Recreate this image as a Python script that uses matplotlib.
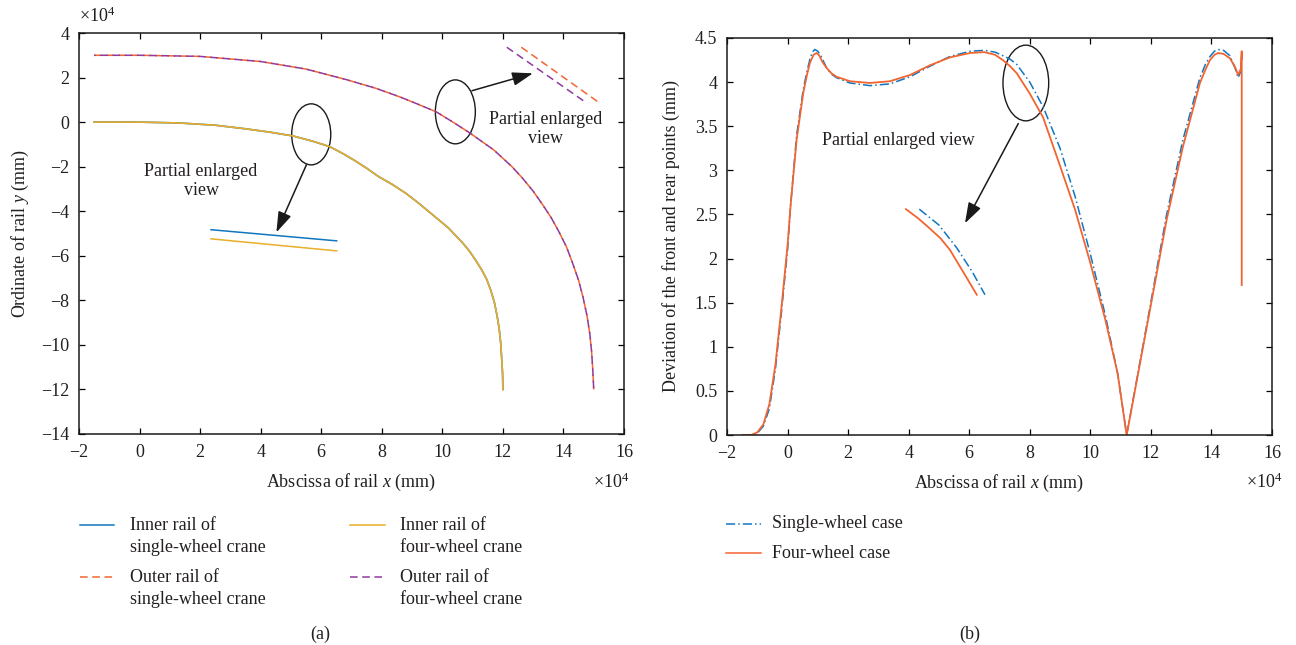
import matplotlib
matplotlib.use("Agg")
import matplotlib.pyplot as plt
from matplotlib.patches import Ellipse
from matplotlib.lines import Line2D

plt.rcParams['font.family'] = ['Liberation Serif', 'DejaVu Serif']
plt.rcParams['mathtext.fontset'] = 'custom'
plt.rcParams['mathtext.rm'] = 'Liberation Serif'
plt.rcParams['mathtext.it'] = 'Liberation Serif:italic'
plt.rcParams['axes.unicode_minus'] = True

# colours (MATLAB-like)
BLUE = '#0f76c0'
ORANGE = '#f26430'
YELLOW = '#e9ae2a'
PURPLE = '#8e3a9e'
TXT = '#231f20'

# ---- panel (a): rail coordinates, x and y in units of 1e4 mm ----
inner_x = [-1.5, 0.0, 1.33, 2.5, 3.5, 4.3, 5.06, 5.7, 6.28, 6.7, 7.1, 7.5, 7.9, 8.35, 8.8, 9.2, 9.6, 10.2, 10.67, 10.9, 11.1, 11.3, 11.47, 11.6, 11.72, 11.81, 11.88, 11.93, 11.96, 11.99, 12.0]
inner_y = [0.0, 0.0, -0.04, -0.14, -0.3, -0.45, -0.62, -0.85, -1.1, -1.4, -1.72, -2.07, -2.45, -2.8, -3.2, -3.62, -4.07, -4.75, -5.42, -5.8, -6.2, -6.63, -7.07, -7.55, -8.1, -8.7, -9.3, -9.95, -10.6, -11.3, -12.0]
outer_x = [-1.5, 0.0, 2.0, 4.0, 5.5, 6.85, 7.8, 8.6, 9.2, 9.8, 10.35, 10.9, 11.7, 12.3, 12.65, 13.0, 13.3, 13.6, 13.85, 14.1, 14.3, 14.5, 14.65, 14.78, 14.87, 14.93, 14.97, 15.0]
outer_y = [3.0, 3.0, 2.95, 2.72, 2.38, 1.9, 1.52, 1.13, 0.8, 0.46, 0.0, -0.48, -1.25, -2.0, -2.52, -3.1, -3.68, -4.3, -4.92, -5.6, -6.32, -7.1, -7.88, -8.7, -9.5, -10.3, -11.15, -12.0]
# enlarged-view segments
zoom_inner_x = [2.36, 6.51]
zoom_inner_single_y = [-4.83, -5.33]
zoom_inner_four_y = [-5.24, -5.78]
zoom_outer_single_x = [12.61, 15.13]
zoom_outer_four_x = [12.13, 14.70]
zoom_outer_y = [3.36, 0.92]

# ---- panel (b): deviation of front and rear points (mm) ----
dev_four_x = [-1.5, -1.2, -1.0, -0.8, -0.6, -0.4, -0.2, 0.0, 0.1, 0.3, 0.52, 0.64, 0.74, 0.86, 0.96, 1.05, 1.15, 1.29, 1.45, 1.62, 2.06, 2.72, 3.38, 4.04, 4.7, 5.36, 6.03, 6.5, 6.85, 7.11, 7.35, 7.57, 8.0, 8.44, 9.0, 9.5, 10.0, 10.5, 10.9, 11.2, 11.97, 12.52, 13.06, 13.62, 13.8, 13.95, 14.1, 14.22, 14.4, 14.61, 14.78, 14.88, 14.97, 15.0, 15.0]
dev_four_y = [0.0, 0.0, 0.03, 0.12, 0.35, 0.8, 1.45, 2.15, 2.6, 3.35, 3.88, 4.08, 4.22, 4.31, 4.33, 4.3, 4.23, 4.16, 4.1, 4.06, 4.01, 3.99, 4.01, 4.08, 4.19, 4.28, 4.33, 4.34, 4.31, 4.25, 4.18, 4.10, 3.87, 3.6, 3.05, 2.55, 1.95, 1.3, 0.7, 0.0, 1.42, 2.44, 3.27, 3.99, 4.14, 4.25, 4.31, 4.33, 4.32, 4.27, 4.17, 4.08, 4.15, 4.35, 1.70]
dev_single_x = [-1.5, -1.2, -1.0, -0.8, -0.6, -0.4, -0.2, 0.0, 0.1, 0.3, 0.52, 0.64, 0.74, 0.82, 0.9, 1.0, 1.1, 1.29, 1.45, 1.62, 2.06, 2.72, 3.38, 4.04, 4.7, 5.36, 6.03, 6.5, 6.85, 7.11, 7.35, 7.57, 8.0, 8.44, 9.0, 9.5, 10.0, 10.5, 10.9, 11.2, 11.97, 12.52, 13.06, 13.62, 13.8, 13.95, 14.1, 14.22, 14.4, 14.61, 14.78, 14.88, 14.97, 15.0]
dev_single_y = [0.0, 0.0, 0.02, 0.1, 0.3, 0.75, 1.4, 2.1, 2.6, 3.4, 3.92, 4.12, 4.26, 4.34, 4.37, 4.35, 4.3, 4.16, 4.09, 4.05, 3.99, 3.96, 3.98, 4.06, 4.18, 4.29, 4.35, 4.36, 4.34, 4.30, 4.26, 4.2, 4.0, 3.72, 3.25, 2.7, 2.05, 1.35, 0.7, 0.0, 1.45, 2.5, 3.35, 4.05, 4.2, 4.29, 4.35, 4.37, 4.36, 4.3, 4.16, 4.05, 4.12, 4.3]
zoom_four_x = [3.91, 4.3, 4.7, 5.05, 5.36, 5.85, 6.25]
zoom_four_y = [2.56, 2.46, 2.34, 2.23, 2.10, 1.82, 1.59]
zoom_single_x = [4.35, 5.0, 5.59, 6.1, 6.52]
zoom_single_y = [2.56, 2.38, 2.12, 1.85, 1.59]

W, H = 1296, 645
def fx(px):
    return px / W
def fy(py):
    return 1 - py / H

fig = plt.figure(figsize=(12.96, 6.45), dpi=100)
ax1 = fig.add_axes([fx(79), fy(434), 545 / W, 401 / H])
ax2 = fig.add_axes([fx(727), fy(435), 545 / W, 397 / H])

FS = 13
arrow = dict(arrowstyle='-|>,head_length=0.9,head_width=0.3', color='#1a1a1a', lw=1.1, mutation_scale=14, shrinkA=0, shrinkB=0)

# panel (a)
ax1.plot(inner_x, inner_y, color=BLUE, lw=1.2)
ax1.plot(inner_x, inner_y, color=YELLOW, lw=1.2)
ax1.plot(outer_x, outer_y, color=ORANGE, lw=1.1, linestyle=(0, (5, 3)))
ax1.plot(outer_x, outer_y, color=PURPLE, lw=1.1, linestyle=(4, (5, 3)))
ax1.plot(zoom_inner_x, zoom_inner_single_y, color=BLUE, lw=1.1)
ax1.plot(zoom_inner_x, zoom_inner_four_y, color=YELLOW, lw=1.1)
ax1.plot(zoom_outer_single_x, zoom_outer_y, color=ORANGE, lw=1.1, linestyle=(0, (5, 3)))
ax1.plot(zoom_outer_four_x, zoom_outer_y, color=PURPLE, lw=1.1, linestyle=(0, (5, 3)))
ax1.add_patch(Ellipse((5.67, -0.55), 1.29, 2.74, fill=False, ec='#1a1a1a', lw=1.0))
ax1.add_patch(Ellipse((10.43, 0.46), 1.32, 2.87, fill=False, ec='#1a1a1a', lw=1.0))
ax1.annotate('', xy=(4.52, -4.95), xytext=(5.51, -1.92), arrowprops=arrow)
ax1.annotate('', xy=(12.99, 2.19), xytext=(10.98, 1.41), arrowprops=arrow)
ax1.text(2.03, -2.64, 'Partial enlarged\nview', ha='center', va='center', fontsize=FS, color=TXT, linespacing=1.15)
ax1.text(13.41, -0.33, 'Partial enlarged\nview', ha='center', va='center', fontsize=FS, color=TXT, linespacing=1.15)
ax1.set_xlim(-2, 16)
ax1.set_ylim(-14, 4)
ax1.set_xticks(range(-2, 17, 2))
ax1.set_yticks(range(-14, 5, 2))
ax1.set_xlabel('Abscissa of rail $x$ (mm)', fontsize=FS, color=TXT, labelpad=8)
ax1.set_ylabel('Ordinate of rail $y$ (mm)', fontsize=FS, color=TXT, labelpad=7)

# panel (b)
ax2.plot(dev_single_x, dev_single_y, color=BLUE, lw=1.1, linestyle=(0, (6, 2, 1, 2)))
ax2.plot(dev_four_x, dev_four_y, color=ORANGE, lw=1.3)
ax2.plot(zoom_single_x, zoom_single_y, color=BLUE, lw=1.1, linestyle=(0, (6, 2, 1, 2)))
ax2.plot(zoom_four_x, zoom_four_y, color=ORANGE, lw=1.3)
ax2.add_patch(Ellipse((7.87, 3.99), 1.51, 0.858, fill=False, ec='#1a1a1a', lw=1.0))
ax2.annotate('', xy=(5.86, 2.40), xytext=(7.62, 3.53), arrowprops=arrow)
ax2.text(3.66, 3.34, 'Partial enlarged view', ha='center', va='center', fontsize=FS, color=TXT)
ax2.set_xlim(-2, 16)
ax2.set_ylim(0, 4.5)
ax2.set_xticks(range(-2, 17, 2))
ax2.set_yticks([0, 0.5, 1, 1.5, 2, 2.5, 3, 3.5, 4, 4.5])
ax2.set_yticklabels(['0', '0.5', '1', '1.5', '2', '2.5', '3', '3.5', '4', '4.5'])
ax2.set_xlabel('Abscissa of rail $x$ (mm)', fontsize=FS, color=TXT, labelpad=8)
ax2.set_ylabel('Deviation of the front and rear points (mm)', fontsize=FS, color=TXT, labelpad=11)

for ax in (ax1, ax2):
    ax.tick_params(direction='in', top=True, right=True, length=4.5, width=0.9,
                   labelsize=FS, labelcolor=TXT, pad=7)
    for s in ax.spines.values():
        s.set_linewidth(1.1)
        s.set_color('#1a1a1a')

# multiplier labels
fig.text(fx(79), fy(16), r'$\times10^{4}$', fontsize=FS, color=TXT, ha='left', va='center')
fig.text(fx(629), fy(482), r'$\times10^{4}$', fontsize=FS, color=TXT, ha='right', va='center')
fig.text(fx(1282), fy(482), r'$\times10^{4}$', fontsize=FS, color=TXT, ha='right', va='center')

# legends drawn below the panels
def handle(x0, x1, y, color, ls):
    fig.add_artist(Line2D([fx(x0), fx(x1)], [fy(y), fy(y)], transform=fig.transFigure,
                          color=color, lw=1.1, linestyle=ls))

handle(80, 114, 525, BLUE, '-')
handle(80, 114, 577, ORANGE, (0, (5, 3)))
handle(350, 385, 525, YELLOW, '-')
handle(350, 385, 577, PURPLE, (0, (5, 3)))
legend_a = [(130, 525, 'Inner rail of'), (130, 548, 'single-wheel crane'),
            (130, 577, 'Outer rail of'), (130, 600, 'single-wheel crane'),
            (400, 525, 'Inner rail of'), (400, 548, 'four-wheel crane'),
            (400, 577, 'Outer rail of'), (400, 600, 'four-wheel crane')]
for x, y, t in legend_a:
    fig.text(fx(x), fy(y), t, fontsize=FS, color=TXT, ha='left', va='center')

handle(726, 761, 524, BLUE, (0, (6, 2, 1, 2)))
handle(726, 761, 553, ORANGE, '-')
fig.text(fx(772), fy(524), 'Single-wheel case', fontsize=FS, color=TXT, ha='left', va='center')
fig.text(fx(772), fy(553), 'Four-wheel case', fontsize=FS, color=TXT, ha='left', va='center')

fig.text(fx(320), fy(634), '(a)', fontsize=FS, color=TXT, ha='center', va='center')
fig.text(fx(970), fy(634), '(b)', fontsize=FS, color=TXT, ha='center', va='center')

fig.savefig('out.png', dpi=100)
